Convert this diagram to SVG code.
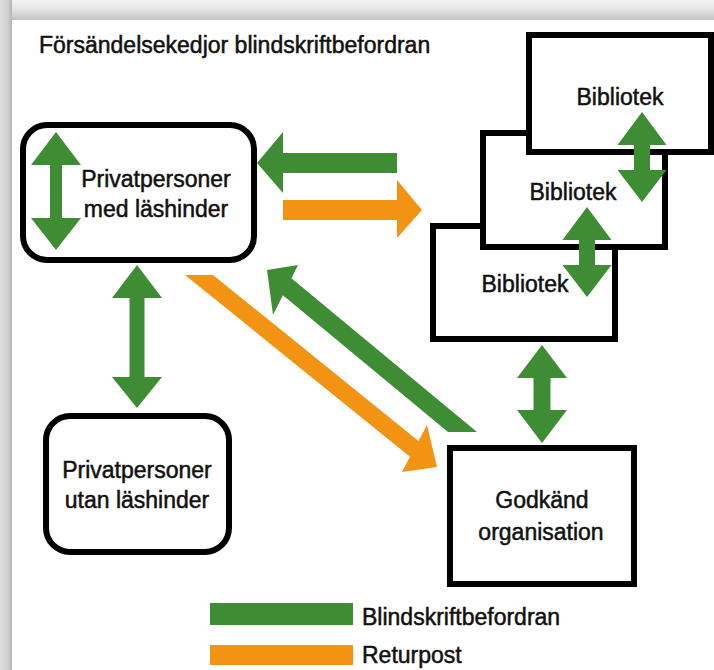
<svg xmlns="http://www.w3.org/2000/svg" width="714" height="670" viewBox="0 0 714 670">
<defs>
<linearGradient id="gTop" x1="0" y1="0" x2="0" y2="1">
<stop offset="0" stop-color="#f4f4f4"/>
<stop offset="0.45" stop-color="#e4e4e4"/>
<stop offset="1" stop-color="#c2c2c2"/>
</linearGradient>
<linearGradient id="gLeft" x1="0" y1="0" x2="1" y2="0">
<stop offset="0" stop-color="#dedede"/>
<stop offset="0.65" stop-color="#d0d0d0"/>
<stop offset="1" stop-color="#b4b4b4"/>
</linearGradient>
</defs>
<style>
.box{fill:#ffffff;stroke:#000000;stroke-width:6}
.lbl{font-family:"Liberation Sans",Arial,sans-serif;font-size:23px;fill:#111111;stroke:#111111;stroke-width:0.5}
.mid{text-anchor:middle}
.green{fill:#3e8d35}
.orange{fill:#f39314}
</style>
<rect x="0" y="0" width="714" height="670" fill="#ffffff"/>
<rect x="0" y="0" width="714" height="20" fill="url(#gTop)"/>
<rect x="0" y="0" width="12" height="670" fill="url(#gLeft)"/>

<text id="title" class="lbl" x="39" y="53">Försändelsekedjor blindskriftbefordran</text>

<g id="node-privat-med">
<rect class="box" x="23" y="125" width="231" height="135" rx="24" ry="24"/>
<text class="lbl mid" x="156" y="187">Privatpersoner</text>
<text class="lbl mid" x="156" y="217">med läshinder</text>
</g>

<g id="node-privat-utan">
<rect class="box" x="46" y="416" width="183" height="136" rx="24" ry="24"/>
<text class="lbl mid" x="137" y="478">Privatpersoner</text>
<text class="lbl mid" x="137" y="508">utan läshinder</text>
</g>

<g id="node-bibliotek-3">
<rect class="box" x="433" y="226" width="182" height="113"/>
<text class="lbl mid" x="525" y="292">Bibliotek</text>
</g>

<g id="node-bibliotek-2">
<rect class="box" x="483" y="133" width="182" height="114"/>
<text class="lbl mid" x="573" y="200">Bibliotek</text>
</g>

<g id="node-bibliotek-1">
<rect class="box" x="529" y="35" width="182" height="117"/>
<text class="lbl mid" x="620" y="105">Bibliotek</text>
</g>

<g id="node-godkand">
<rect class="box" x="450" y="448" width="184" height="136"/>
<text class="lbl mid" x="542" y="508">Godkänd</text>
<text class="lbl mid" x="541" y="540">organisation</text>
</g>

<g id="connectors">
<polygon class="green" points="56,132 81,165 62,165 62,218 81,218 56,250 31,218 50,218 50,165 31,165"/>
<polygon class="green" points="137,265 162,298 144.5,298 144.5,377 162,377 137,408 112,377 129.5,377 129.5,298 112,298"/>
<polygon class="green" points="642,112 666.5,145 650,145 650,170 666.5,170 642,202 617.5,170 634,170 634,145 617.5,145"/>
<polygon class="green" points="587,207 611.5,240 595,240 595,265 611.5,265 587,297 562.5,265 579,265 579,240 562.5,240"/>
<polygon class="green" points="542,345 567,378 550.5,378 550.5,410 567,410 542,443 517,410 533.5,410 533.5,378 517,378"/>
<polygon class="green" points="257,163 283,132 283,153 397,153 397,173 283,173 283,193"/>
<polygon class="orange" points="283,200 397,200 397,180 422,210 397,238 397,220 283,220"/>
<polygon class="orange" points="185,275 213,275 418.5,441 427,425 437,467 402,472 410,456.7"/>
<polygon class="green" points="448,432 477,432 291.4,278.2 298,265 267,270 273,315 282.9,295.2"/>
</g>

<g id="legend">
<rect class="green" x="210" y="603" width="143" height="22"/>
<rect class="orange" x="210" y="645" width="143" height="20"/>
<text class="lbl" x="362" y="625">Blindskriftbefordran</text>
<text class="lbl" x="362" y="663">Returpost</text>
</g>
</svg>
